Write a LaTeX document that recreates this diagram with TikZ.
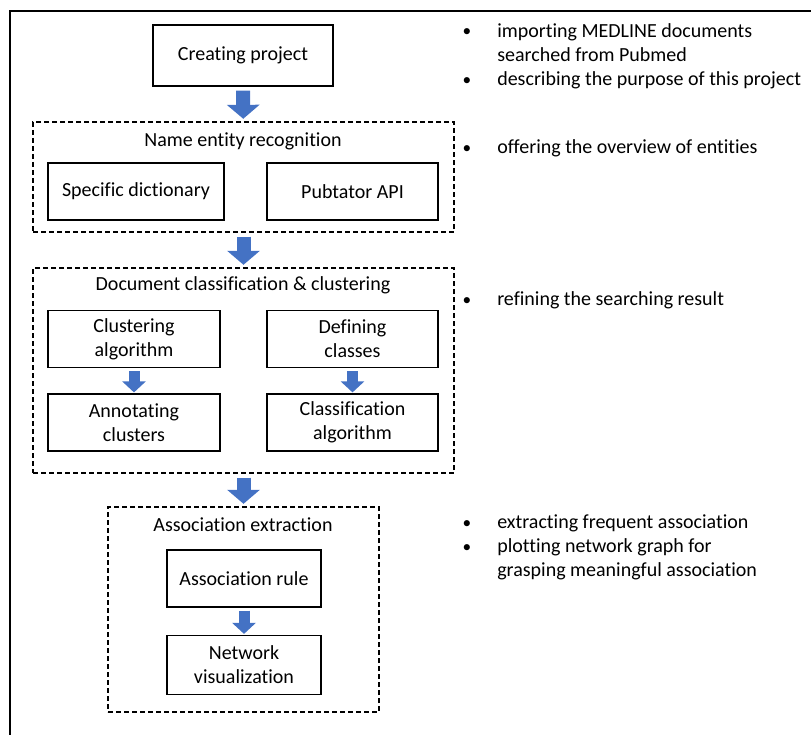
\documentclass[tikz,border=0pt]{standalone}
\usepackage{fontspec}
\setmainfont{Carlito}[Ligatures=NoCommon]
\usetikzlibrary{arrows.meta,positioning}
\definecolor{blockblue}{HTML}{4472C4}
\begin{document}
\begin{tikzpicture}[x=0.75pt,y=-0.75pt,
  font=\fontsize{15}{18}\selectfont,
  box/.style={draw,line width=0.9pt,minimum width=#1,minimum height=42.75pt,
              align=center,inner sep=2pt},
  group/.style={draw,line width=0.8pt,dash pattern=on 3.5pt off 2.5pt,
              minimum width=#1,minimum height=153.75pt},
  note/.style={anchor=base west,align=left,inner sep=0pt},
  dot/.style={anchor=base,inner sep=0pt,font=\fontsize{13}{18}\selectfont},
  bigarr/.style={line width=10.5pt,draw=blockblue,
              -{Triangle[length=10.5pt,width=24pt]},shorten <=3pt,shorten >=2pt},
  smallarr/.style={line width=8.25pt,draw=blockblue,
              -{Triangle[length=8.25pt,width=17.25pt]},shorten <=2.25pt,shorten >=0.75pt}
]
\useasboundingbox (0,0) rectangle (811,735);
\draw[line width=1pt] (10,735) |- (811,11);
\node[box=135pt,minimum height=45.75pt] (create) at (243,55.5) {Creating project};
\node[group=315.75pt,minimum height=82.5pt] (ner) at (243.5,177) {};
\node (nert) at (243,141) {Name entity recognition};
\node[box=132pt] (dict) at (136,191.5) {Specific dictionary};
\node[box=128.25pt] (pub) at (352.5,191.5) {Pubtator API};
\node[group=315.75pt] (doc) at (243.5,370.5) {};
\node (doct) at (243,285) {Document classification \& clustering};
\node[box=129pt] (clus) at (134,339) {Clustering\\algorithm};
\node[box=129pt] (annot) at (134,422.5) {Annotating\\clusters};
\node[box=128.25pt] (defcls) at (352.5,339) {Defining\\classes};
\node[box=128.25pt] (clsalg) at (352.5,422.5) {Classification\\algorithm};
\node[group=203.25pt] (assoc) at (243.5,609.5) {};
\node (assoct) at (243,525) {Association extraction};
\node[box=115.5pt] (rule) at (244,578.5) {Association rule};
\node[box=115.5pt,minimum height=44.25pt] (netvis) at (244,665) {Network\\visualization};
\draw[bigarr] (create) -- (ner);
\draw[bigarr] (ner) -- (doc);
\draw[bigarr] (doc) -- (assoc);
\draw[smallarr] (clus) -- (annot);
\draw[smallarr] (defcls) -- (clsalg);
\draw[smallarr] (rule) -- (netvis);
\node[dot] (d1) at (467,37) {\textbullet};
\node[note] (n1) at (497,62) {importing MEDLINE documents\\searched from Pubmed};
\node[dot] (d2) at (467,86) {\textbullet};
\node[note] (n2) at (497,86) {describing the purpose of this project};
\node[dot] (d3) at (467,153) {\textbullet};
\node[note] (n3) at (497,153) {offering the overview of entities};
\node[dot] (d4) at (467,305) {\textbullet};
\node[note] (n4) at (497,305) {refining the searching result};
\node[dot] (d5) at (467,528) {\textbullet};
\node[note] (n5) at (497,528) {extracting frequent association};
\node[dot] (d6) at (467,552) {\textbullet};
\node[note] (n6) at (497,576) {plotting network graph for\\grasping meaningful association};
\end{tikzpicture}
\end{document}
